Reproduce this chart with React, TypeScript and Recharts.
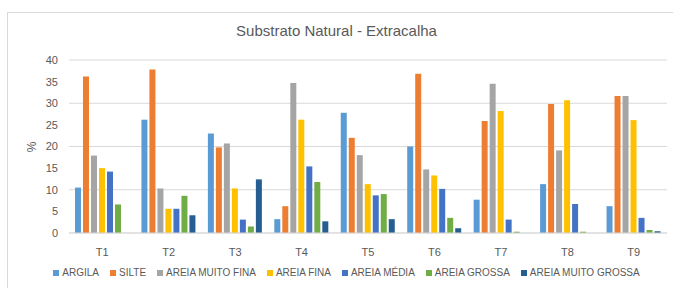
import React from 'react';
import { BarChart, Bar, XAxis, YAxis, CartesianGrid, Legend } from 'recharts';

const categories = ['T1', 'T2', 'T3', 'T4', 'T5', 'T6', 'T7', 'T8', 'T9'];

const argila = [10.5, 26.2, 23.0, 3.2, 27.8, 20.0, 7.7, 11.3, 6.2];
const silte = [36.2, 37.8, 19.8, 6.2, 22.0, 36.8, 25.9, 29.8, 31.7];
const areiaMuitoFina = [17.9, 10.3, 20.7, 34.7, 18.0, 14.7, 34.5, 19.1, 31.7];
const areiaFina = [15.0, 5.6, 10.3, 26.2, 11.3, 13.3, 28.2, 30.7, 26.1];
const areiaMedia = [14.2, 5.6, 3.1, 15.4, 8.7, 10.2, 3.1, 6.7, 3.5];
const areiaGrossa = [6.6, 8.6, 1.5, 11.8, 9.0, 3.5, 0.3, 0.3, 0.7];
const areiaMuitoGrossa = [0, 4.1, 12.4, 2.7, 3.2, 1.1, 0, 0, 0.4];

const yTicks = [0, 5, 10, 15, 20, 25, 30, 35, 40];

const series = [
  { key: 'argila', name: 'ARGILA', values: argila, color: '#5B9BD5' },
  { key: 'silte', name: 'SILTE', values: silte, color: '#ED7D31' },
  { key: 'amf', name: 'AREIA MUITO FINA', values: areiaMuitoFina, color: '#A5A5A5' },
  { key: 'af', name: 'AREIA FINA', values: areiaFina, color: '#FFC000' },
  { key: 'am', name: 'AREIA MÉDIA', values: areiaMedia, color: '#4472C4' },
  { key: 'ag', name: 'AREIA GROSSA', values: areiaGrossa, color: '#70AD47' },
  { key: 'amg', name: 'AREIA MUITO GROSSA', values: areiaMuitoGrossa, color: '#255E91' },
];

const data = categories.map((c, i) => {
  const row: Record<string, string | number> = { name: c };
  series.forEach((s) => { row[s.key] = s.values[i]; });
  return row;
});

const font = '"Liberation Sans", Arial, sans-serif';
const textColor = '#595959';

const LegendRow = () => (
  <div style={{ display: 'flex', justifyContent: 'center', gap: 11, fontFamily: font, fontSize: 10, color: textColor, paddingTop: 4, paddingLeft: 26 }}>
    {series.map((s) => (
      <div key={s.key} style={{ display: 'flex', alignItems: 'center', gap: 3 }}>
        <span style={{ width: 6, height: 6, background: s.color, display: 'inline-block' }} />
        <span>{s.name}</span>
      </div>
    ))}
  </div>
);

export default function App() {
  return (
    <div style={{ position: 'absolute', left: 0, top: 0, width: 673, height: 288, background: '#fff', overflow: 'hidden' }}>
      <div style={{ position: 'absolute', left: 7, top: 12, width: 680, height: 290, border: '1px solid #D9D9D9' }} />
      <div style={{ position: 'absolute', top: 22, width: 673, textAlign: 'center', fontFamily: font, fontSize: 15, color: textColor }}>
        Substrato Natural - Extracalha
      </div>
      <div style={{ position: 'absolute', left: 27, top: 140, transform: 'rotate(-90deg)', fontFamily: font, fontSize: 12, color: textColor }}>%</div>
      <BarChart
        width={673}
        height={288}
        data={data}
        margin={{ top: 60, right: 6, left: 0, bottom: 0 }}
        barCategoryGap="9%"
        barGap={2}
        style={{ position: 'absolute', left: 0, top: 0 }}
      >
        <CartesianGrid vertical={false} stroke="#D9D9D9" />
        <XAxis
          dataKey="name"
          axisLine={{ stroke: '#D9D9D9' }}
          tickLine={false}
          tickMargin={9}
          height={30}
          tick={{ fill: textColor, fontSize: 11, fontFamily: font }}
        />
        <YAxis
          width={69}
          domain={[0, 40]}
          ticks={yTicks}
          axisLine={false}
          tickLine={false}
          tickMargin={5}
          tick={{ fill: textColor, fontSize: 11, fontFamily: font }}
        />
        <Legend verticalAlign="bottom" height={25} content={() => <LegendRow />} />
        {series.map((s) => (
          <Bar key={s.key} dataKey={s.key} name={s.name} fill={s.color} isAnimationActive={false} />
        ))}
      </BarChart>
    </div>
  );
}
